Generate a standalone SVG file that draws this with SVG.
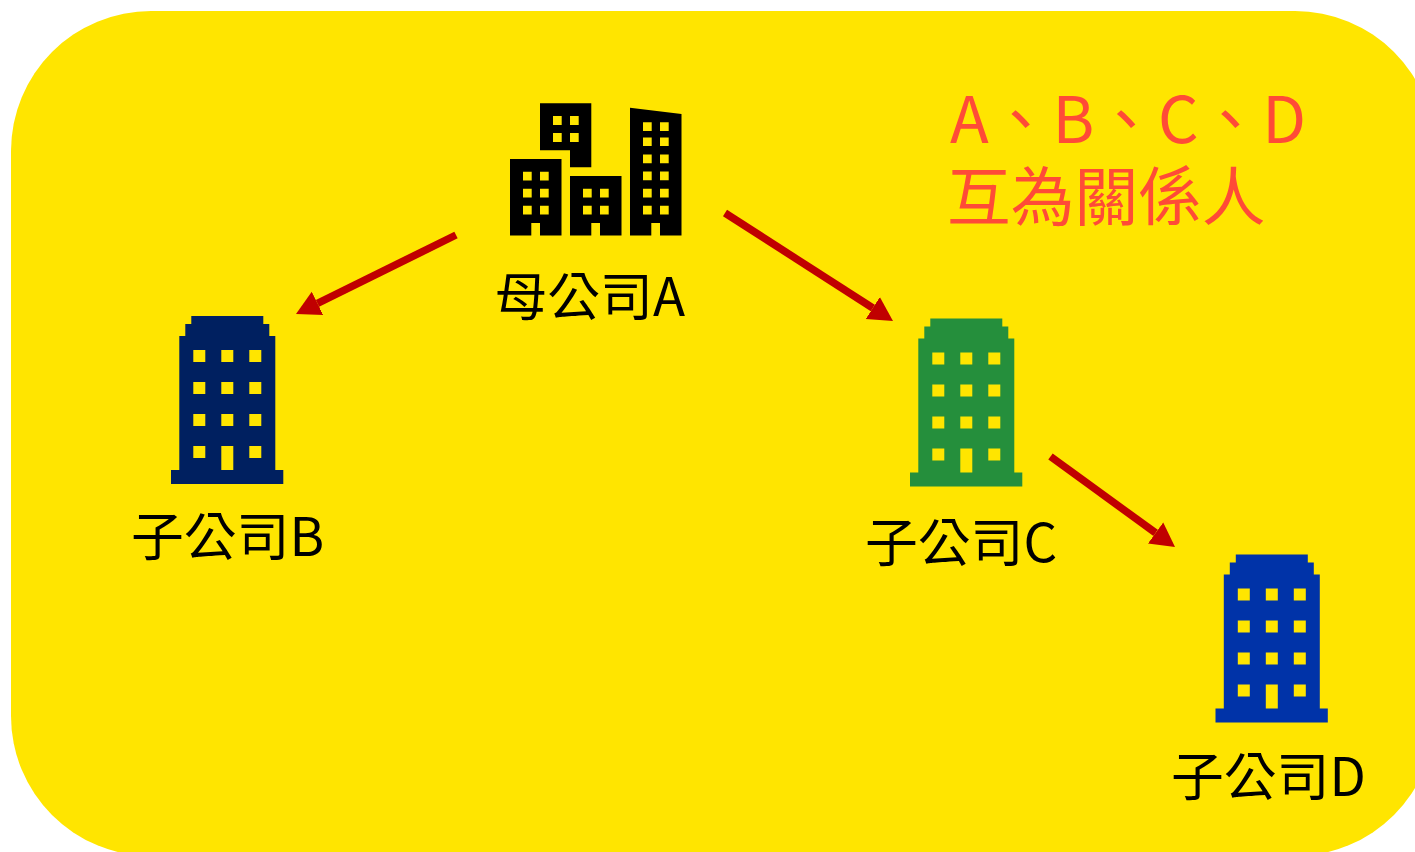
<svg xmlns="http://www.w3.org/2000/svg" lang="zh-TW" xml:lang="zh-TW" width="1415" height="852" viewBox="0 0 1415 852">
<style>
text{font-family:"Noto Sans CJK TC","Noto Sans CJK SC",sans-serif}
.lbl{font-size:52.8px;fill:#000}
.note{font-size:63.7px;fill:#ff4b37}
.conn{stroke:#c00000;stroke-width:7.5;fill:none;marker-end:url(#head)}
</style>
<defs>
<marker id="head" markerUnits="userSpaceOnUse" markerWidth="30" markerHeight="30" refX="0" refY="15" orient="auto"><path d="M0 2L24 15L0 28Z" fill="#c00000"/></marker>
<path id="tower" fill-rule="evenodd" d="M20.3 0H92.3V8H98.3V20H104.3V154H112.3V168H0V154H8.3V20H14.3V8H20.3Z
M22.3 34h12v12h-12zM50.3 34h12v12h-12zM78.3 34h12v12h-12z
M22.3 66h12v12h-12zM50.3 66h12v12h-12zM78.3 66h12v12h-12z
M22.3 98h12v12h-12zM50.3 98h12v12h-12zM78.3 98h12v12h-12z
M22.3 130h12v12h-12zM50.3 130h12v24h-12zM78.3 130h12v12h-12z"/>
</defs>
<rect id="background" x="11" y="11" width="1424" height="845" rx="140" ry="140" fill="#ffe500"/>
<g id="connectors">
<line class="conn" x1="456" y1="235" x2="317.5" y2="303.4"/>
<line class="conn" x1="725" y1="213" x2="872.8" y2="308"/>
<line class="conn" x1="1050.5" y1="456.5" x2="1155.6" y2="532.9"/>
</g>
<g id="node-a">
<path fill="#000" fill-rule="evenodd" d="M540 103.3H591.3V167.3H570V150.3H540Z
M553 116h8.7v9h-8.7zM570 116h8.7v9h-8.7zM553 133h8.7v9h-8.7zM570 133h8.7v9h-8.7z
M510 159H561.5V235.5H540V223H531.3V235.5H510Z
M523 171.7h8.7v8.7h-8.7zM540 171.7h8.7v8.7h-8.7zM523 188.7h8.7v8.7h-8.7zM540 188.7h8.7v8.7h-8.7zM523 205.7h8.7v8.7h-8.7zM540 205.7h8.7v8.7h-8.7z
M570 176H621.5V235.5H600V223H591.3V235.5H570Z
M583 188.7h8.7v8.7h-8.7zM600 188.7h8.7v8.7h-8.7zM583 205.7h8.7v8.7h-8.7zM600 205.7h8.7v8.7h-8.7z
M630 107.7L681.5 114V235.5H660V223H651.3V235.5H630Z
M643 122.3h8.7v8.7h-8.7zM660 122.3h8.7v8.7h-8.7zM643 137.4h8.7v8.7h-8.7zM660 137.4h8.7v8.7h-8.7zM643 154.5h8.7v8.7h-8.7zM660 154.5h8.7v8.7h-8.7zM643 171.6h8.7v8.7h-8.7zM660 171.6h8.7v8.7h-8.7zM643 188.7h8.7v8.7h-8.7zM660 188.7h8.7v8.7h-8.7zM643 205.7h8.7v8.7h-8.7zM660 205.7h8.7v8.7h-8.7z"/>
<text class="lbl" x="494.5" y="316">母公司A</text>
</g>
<g id="node-b">
<use href="#tower" x="171" y="316" fill="#002060"/>
<text class="lbl" x="131" y="556">子公司B</text>
</g>
<g id="node-c">
<use href="#tower" x="910" y="318.5" fill="#258f3c"/>
<text class="lbl" x="865" y="562">子公司C</text>
</g>
<g id="node-d">
<use href="#tower" x="1215.5" y="554.5" fill="#0033a8"/>
<text class="lbl" x="1171" y="796">子公司D</text>
</g>
<g id="note">
<text class="note" x="950" y="143">A、B、C、D</text>
<text class="note" x="947" y="220">互為關係人</text>
</g>
</svg>
